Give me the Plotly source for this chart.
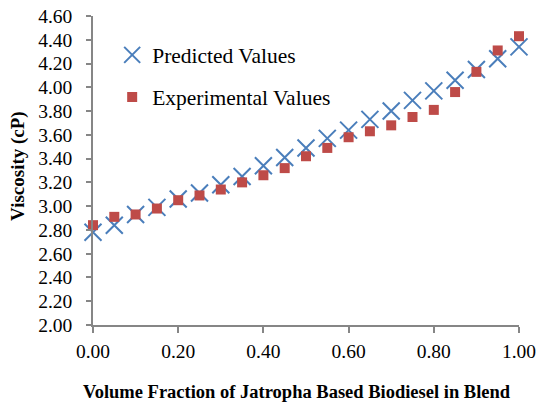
import plotly.graph_objects as go

volume_fraction = [0.00, 0.05, 0.10, 0.15, 0.20, 0.25, 0.30, 0.35, 0.40, 0.45, 0.50,
                   0.55, 0.60, 0.65, 0.70, 0.75, 0.80, 0.85, 0.90, 0.95, 1.00]
predicted = [2.78, 2.84, 2.93, 2.99, 3.06, 3.11, 3.18, 3.25, 3.34, 3.41, 3.49,
             3.57, 3.64, 3.73, 3.80, 3.89, 3.97, 4.06, 4.15, 4.24, 4.34]
experimental = [2.84, 2.91, 2.93, 2.98, 3.05, 3.09, 3.14, 3.20, 3.26, 3.32, 3.42,
                3.49, 3.58, 3.63, 3.68, 3.75, 3.81, 3.96, 4.13, 4.31, 4.43]
y_ticks = [2.0 + 0.2 * i for i in range(14)]
x_ticks = [0.0, 0.2, 0.4, 0.6, 0.8, 1.0]

serif = "Liberation Serif, Times New Roman, serif"
axis_color = "#868686"

fig = go.Figure()
fig.add_trace(go.Scatter(
    x=volume_fraction, y=predicted, mode="markers", name="Predicted Values",
    marker=dict(symbol="x-thin", size=17, color="#4a7ebb",
                line=dict(color="#4a7ebb", width=2)),
    legend="legend", cliponaxis=False))
fig.add_trace(go.Scatter(
    x=volume_fraction, y=experimental, mode="markers", name="Experimental Values",
    marker=dict(symbol="square", size=10, color="#be4b48"),
    legend="legend2", cliponaxis=False))

legend_common = dict(font=dict(family=serif, size=21.5, color="#000000"),
                     bgcolor="rgba(0,0,0,0)", itemwidth=30,
                     xanchor="left", yanchor="middle", borderwidth=0)
fig.update_layout(
    width=539, height=403,
    margin=dict(l=93, r=20, t=16, b=78, autoexpand=False),
    paper_bgcolor="white", plot_bgcolor="white",
    showlegend=True,
    legend=dict(x=0.045, y=0.874, **legend_common),
    legend2=dict(x=0.045, y=0.738, **legend_common),
    xaxis=dict(range=[0, 1], tickvals=x_ticks, tickformat=".2f", automargin=False,
               showgrid=False, zeroline=False, showline=True,
               linecolor=axis_color, linewidth=1.5,
               ticks="outside", ticklen=6, tickcolor=axis_color, tickwidth=1.5,
               ticklabelstandoff=2, ticklabeloverflow="allow",
               tickfont=dict(family=serif, size=19.5, color="#000000")),
    yaxis=dict(range=[2.0, 4.6], tickvals=y_ticks, tickformat=".2f", automargin=False,
               showgrid=False, zeroline=False, showline=True,
               linecolor=axis_color, linewidth=1.5,
               ticks="outside", ticklen=5, tickcolor=axis_color, tickwidth=1.5,
               ticklabelstandoff=10, ticklabeloverflow="allow",
               tickfont=dict(family=serif, size=19.5, color="#000000")),
    annotations=[
        dict(text="<b>Volume Fraction of Jatropha Based Biodiesel in Blend</b>",
             xref="paper", yref="paper", x=0.479, y=-0.217,
             xanchor="center", yanchor="middle", showarrow=False,
             font=dict(family=serif, size=18.5, color="#000000")),
        dict(text="<b>Viscosity (cP)</b>",
             xref="paper", yref="paper", x=-0.176, y=0.515, textangle=-90,
             xanchor="center", yanchor="middle", showarrow=False,
             font=dict(family=serif, size=19, color="#000000")),
    ],
)
# remove the default 8px page margin so the 539x403 figure fills the window
fig.write_html("out.html", config={"displayModeBar": False},
               post_script="document.body.style.margin='0';document.body.style.overflow='hidden';")
